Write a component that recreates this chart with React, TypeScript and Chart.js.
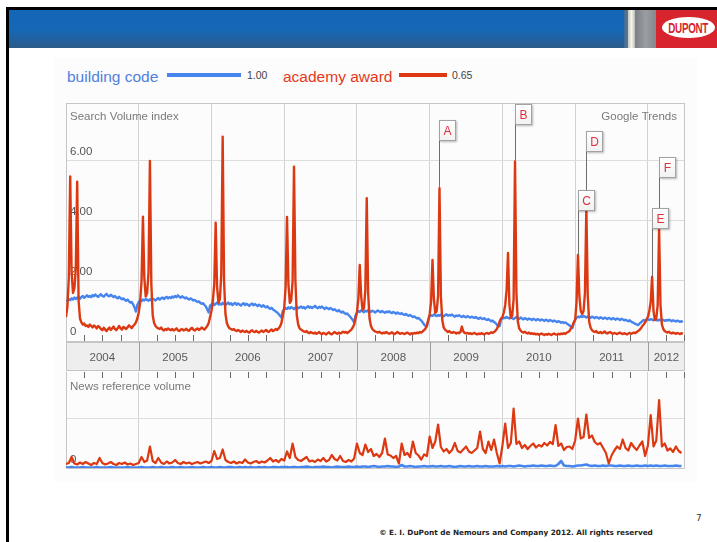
import React, { useEffect, useRef } from "react";
import { Chart, registerables } from "chart.js";

Chart.register(...registerables);

// ---- series metadata ----
const seriesNames = ["building code", "academy award"];
const seriesAverages = ["1.00", "0.65"];
const seriesColors = ["#4684ee", "#dc3912"];
const legendTextColors = ["#4f80dc", "#e4381a"];

// ---- time axis ----
const firstYear = 2004;
const axisEnd = 2012.51;
const weeksPerYear = 52;
const yearLabels = ["2004", "2005", "2006", "2007", "2008", "2009", "2010", "2011", "2012"];

// ---- value axes ----
const searchTicks = [0, 2, 4, 6];
const searchMax = 7.93;
const newsTicks = [0, 1];
const newsMax = 1.92;

// ---- news event markers (week index into the weekly search series) ----
const annotationLetters = ["A", "B", "C", "D", "E", "F"];
const annotationWeeks = [267, 321, 366, 372, 419, 424];

// ---- weekly search volume index ----
const buildingCode = [
  // 2004
  1.37, 1.33, 1.4, 1.36, 1.42, 1.38, 1.45, 1.4, 1.44, 1.47, 1.41, 1.46, 1.5,
  1.44, 1.48, 1.52, 1.47, 1.5, 1.46, 1.53, 1.49, 1.55, 1.5, 1.47, 1.52, 1.56,
  1.5, 1.48, 1.53, 1.57, 1.51, 1.49, 1.54, 1.5, 1.46, 1.5, 1.45, 1.42, 1.47,
  1.43, 1.39, 1.42, 1.37, 1.34, 1.38, 1.32, 1.28, 1.3, 1.22, 1.12, 0.98, 1.2,
  // 2005
  1.3, 1.36, 1.33, 1.38, 1.35, 1.4, 1.37, 1.34, 1.39, 1.36, 1.41, 1.38, 1.35,
  1.4, 1.43, 1.38, 1.42, 1.45, 1.4, 1.44, 1.47, 1.42, 1.46, 1.43, 1.48, 1.45,
  1.5, 1.46, 1.52, 1.48, 1.44, 1.49, 1.46, 1.42, 1.45, 1.41, 1.38, 1.42, 1.39,
  1.35, 1.37, 1.33, 1.3, 1.32, 1.27, 1.24, 1.26, 1.2, 1.15, 1.05, 0.95, 1.18,
  // 2006
  1.22, 1.26, 1.2, 1.24, 1.28, 1.22, 1.25, 1.21, 1.27, 1.23, 1.19, 1.24, 1.28,
  1.22, 1.26, 1.2, 1.24, 1.27, 1.21, 1.25, 1.22, 1.18, 1.23, 1.26, 1.2, 1.24,
  1.21, 1.17, 1.22, 1.25, 1.19, 1.23, 1.2, 1.16, 1.21, 1.18, 1.14, 1.19, 1.15,
  1.12, 1.16, 1.1, 1.07, 1.11, 1.05, 1.02, 0.98, 0.95, 0.9, 0.84, 0.78, 1.0,
  // 2007
  1.05, 1.1, 1.07, 1.12, 1.08, 1.13, 1.1, 1.06, 1.11, 1.14, 1.09, 1.12, 1.15,
  1.1, 1.13, 1.08, 1.12, 1.16, 1.11, 1.14, 1.1, 1.13, 1.17, 1.12, 1.09, 1.14,
  1.11, 1.15, 1.1, 1.07, 1.12, 1.09, 1.06, 1.1, 1.07, 1.03, 1.06, 1.02, 0.99,
  1.03, 0.98, 0.95, 0.98, 0.93, 0.9, 0.92, 0.86, 0.82, 0.76, 0.7, 0.62, 0.85,
  // 2008
  0.95, 1.0, 0.97, 1.02, 0.99, 0.96, 1.01, 0.98, 1.03, 1.0, 0.97, 1.01, 0.98,
  0.95, 0.99, 1.02, 0.98, 0.96, 1.0, 0.97, 0.94, 0.98, 0.96, 0.99, 0.95, 0.93,
  0.97, 0.94, 0.91, 0.95, 0.92, 0.9, 0.93, 0.89, 0.87, 0.9, 0.86, 0.84, 0.87,
  0.83, 0.8, 0.82, 0.78, 0.75, 0.77, 0.72, 0.68, 0.62, 0.55, 0.5, 0.48, 0.7,
  // 2009
  0.82, 0.86, 0.84, 0.88, 0.85, 0.83, 0.87, 0.84, 0.88, 0.85, 0.82, 0.86, 0.89,
  0.84, 0.87, 0.85, 0.88, 0.84, 0.81, 0.85, 0.83, 0.86, 0.82, 0.8, 0.84, 0.81,
  0.79, 0.83, 0.8, 0.78, 0.81, 0.79, 0.77, 0.8, 0.76, 0.74, 0.78, 0.75, 0.73,
  0.76, 0.72, 0.7, 0.73, 0.69, 0.66, 0.68, 0.63, 0.6, 0.55, 0.48, 0.5, 0.72,
  // 2010
  0.74, 0.78, 0.76, 0.8, 0.77, 0.75, 0.79, 0.76, 0.73, 0.77, 0.8, 0.76, 0.74,
  0.78, 0.75, 0.72, 0.76, 0.74, 0.71, 0.75, 0.73, 0.7, 0.74, 0.72, 0.69, 0.73,
  0.71, 0.68, 0.72, 0.7, 0.67, 0.71, 0.69, 0.66, 0.7, 0.68, 0.65, 0.68, 0.66,
  0.63, 0.66, 0.64, 0.61, 0.63, 0.6, 0.62, 0.58, 0.55, 0.52, 0.47, 0.43, 0.6,
  // 2011
  0.72, 0.78, 0.81, 0.79, 0.83, 0.8, 0.84, 0.81, 0.78, 0.82, 0.8, 0.77, 0.81,
  0.79, 0.76, 0.8, 0.78, 0.75, 0.79, 0.77, 0.74, 0.78, 0.76, 0.73, 0.77, 0.75,
  0.72, 0.76, 0.74, 0.71, 0.75, 0.73, 0.7, 0.74, 0.72, 0.69, 0.71, 0.68, 0.66,
  0.69, 0.65, 0.62, 0.6, 0.57, 0.55, 0.53, 0.58, 0.62, 0.66, 0.7, 0.68, 0.7,
  // 2012
  0.72, 0.7, 0.73, 0.71, 0.69, 0.72, 0.7, 0.68, 0.71, 0.69, 0.72, 0.7, 0.67,
  0.7, 0.68, 0.71, 0.69, 0.66, 0.69, 0.67, 0.65, 0.68, 0.66, 0.64, 0.66, 0.63,
];

const academyAward = [
  // 2004
  0.8, 1.15, 2.1, 5.48, 2.3, 1.6, 1.75, 2.4, 5.31, 1.35, 0.75, 0.62, 0.55,
  0.58, 0.5, 0.52, 0.47, 0.55, 0.5, 0.45, 0.52, 0.48, 0.42, 0.5, 0.46, 0.4,
  0.36, 0.44, 0.38, 0.33, 0.4, 0.45, 0.37, 0.42, 0.48, 0.4, 0.36, 0.43, 0.5,
  0.42, 0.38, 0.47, 0.44, 0.4, 0.46, 0.52, 0.48, 0.43, 0.5, 0.55, 0.62, 0.75,
  // 2005
  0.95, 1.3, 2.0, 4.14, 2.1, 1.48, 1.6, 2.3, 6.0, 1.9, 0.85, 0.6, 0.5,
  0.45, 0.42, 0.4, 0.45, 0.38, 0.35, 0.4, 0.37, 0.42, 0.38, 0.36, 0.4, 0.35,
  0.38, 0.42, 0.36, 0.33, 0.38, 0.4, 0.35, 0.37, 0.41, 0.36, 0.34, 0.4, 0.44,
  0.38, 0.35, 0.39, 0.42, 0.37, 0.4, 0.45, 0.41, 0.38, 0.44, 0.5, 0.6, 0.8,
  // 2006
  1.0, 1.35, 1.9, 3.94, 1.8, 1.27, 1.4, 2.2, 6.81, 2.0, 0.9, 0.6, 0.48,
  0.42, 0.4, 0.37, 0.4, 0.35, 0.33, 0.37, 0.34, 0.3, 0.35, 0.32, 0.3, 0.34,
  0.3, 0.28, 0.33, 0.36, 0.31, 0.3, 0.34, 0.3, 0.28, 0.32, 0.35, 0.3, 0.33,
  0.37, 0.32, 0.3, 0.35, 0.38, 0.33, 0.36, 0.4, 0.37, 0.42, 0.48, 0.6, 0.85,
  // 2007
  1.1, 1.8, 4.13, 1.9, 1.27, 1.35, 2.0, 5.81, 2.0, 0.85, 0.55, 0.42, 0.38,
  0.35, 0.32, 0.3, 0.33, 0.28, 0.26, 0.3, 0.27, 0.25, 0.28, 0.24, 0.27, 0.3,
  0.25, 0.23, 0.27, 0.25, 0.22, 0.26, 0.29, 0.24, 0.22, 0.26, 0.3, 0.27, 0.24,
  0.28, 0.25, 0.27, 0.31, 0.28, 0.3, 0.26, 0.3, 0.34, 0.38, 0.45, 0.55, 0.75,
  // 2008
  0.95, 1.4, 2.53, 1.5, 1.03, 1.1, 1.7, 4.76, 1.6, 0.75, 0.5, 0.4, 0.35,
  0.32, 0.3, 0.28, 0.31, 0.27, 0.25, 0.28, 0.26, 0.3, 0.27, 0.24, 0.26, 0.29,
  0.25, 0.23, 0.27, 0.3, 0.26, 0.24, 0.27, 0.25, 0.23, 0.26, 0.28, 0.25, 0.22,
  0.26, 0.24, 0.27, 0.25, 0.28, 0.26, 0.3, 0.28, 0.32, 0.36, 0.42, 0.52, 0.7,
  // 2009
  0.9, 1.3, 2.7, 1.4, 0.93, 1.0, 1.5, 5.09, 1.5, 0.7, 0.45, 0.38, 0.34,
  0.3, 0.33, 0.29, 0.27, 0.3, 0.28, 0.25, 0.28, 0.26, 0.3, 0.48, 0.32, 0.27,
  0.25, 0.27, 0.24, 0.26, 0.23, 0.25, 0.27, 0.24, 0.22, 0.25, 0.23, 0.26, 0.24,
  0.22, 0.25, 0.27, 0.24, 0.26, 0.29, 0.27, 0.3, 0.34, 0.4, 0.5, 0.65, 0.75,
  // 2010
  0.8, 0.95, 1.2, 1.7, 2.93, 1.2, 0.77, 0.85, 1.4, 5.98, 1.6, 0.65, 0.42,
  0.35, 0.3, 0.28, 0.31, 0.27, 0.25, 0.28, 0.24, 0.26, 0.23, 0.25, 0.22, 0.24,
  0.21, 0.23, 0.25, 0.22, 0.2, 0.23, 0.21, 0.24, 0.22, 0.2, 0.23, 0.25, 0.22,
  0.21, 0.24, 0.22, 0.25, 0.23, 0.26, 0.24, 0.28, 0.3, 0.34, 0.42, 0.5, 0.62,
  // 2011
  0.7, 1.3, 2.87, 1.5, 1.0, 0.9, 1.0, 1.6, 4.43, 1.5, 0.65, 0.45, 0.36,
  0.32, 0.3, 0.33, 0.28, 0.27, 0.3, 0.26, 0.28, 0.32, 0.27, 0.25, 0.28, 0.3,
  0.26, 0.24, 0.27, 0.25, 0.23, 0.26, 0.28, 0.25, 0.23, 0.26, 0.24, 0.22, 0.25,
  0.27, 0.24, 0.26, 0.28, 0.26, 0.3, 0.33, 0.37, 0.42, 0.5, 0.55, 0.62, 0.72,
  // 2012
  0.8, 1.0, 1.3, 2.14, 1.0, 0.7, 0.75, 1.2, 3.73, 1.2, 0.55, 0.4, 0.33,
  0.3, 0.28, 0.31, 0.27, 0.25, 0.28, 0.26, 0.24, 0.27, 0.25, 0.23, 0.26, 0.24,
];

// ---- fortnightly news reference volume ----
const newsBuildingCode = [
  // 2004
  0.01, 0.01, 0.02, 0.01, 0.01, 0.01, 0.02, 0.01, 0.01, 0.01, 0.01, 0.02, 0.01,
  0.01, 0.01, 0.01, 0.02, 0.01, 0.01, 0.01, 0.01, 0.01, 0.02, 0.01, 0.01, 0.01,
  // 2005
  0.01, 0.02, 0.01, 0.01, 0.01, 0.02, 0.01, 0.01, 0.02, 0.01, 0.01, 0.01, 0.02,
  0.01, 0.01, 0.02, 0.01, 0.01, 0.01, 0.02, 0.01, 0.01, 0.01, 0.02, 0.01, 0.01,
  // 2006
  0.02, 0.01, 0.01, 0.02, 0.01, 0.01, 0.02, 0.02, 0.01, 0.01, 0.02, 0.01, 0.02,
  0.01, 0.02, 0.01, 0.01, 0.02, 0.01, 0.02, 0.01, 0.01, 0.02, 0.02, 0.01, 0.02,
  // 2007
  0.02, 0.02, 0.01, 0.02, 0.02, 0.01, 0.02, 0.02, 0.03, 0.02, 0.01, 0.02, 0.02,
  0.02, 0.03, 0.02, 0.02, 0.01, 0.02, 0.03, 0.02, 0.02, 0.02, 0.03, 0.02, 0.02,
  // 2008
  0.03, 0.02, 0.03, 0.03, 0.02, 0.03, 0.04, 0.03, 0.02, 0.03, 0.03, 0.04, 0.03,
  0.03, 0.02, 0.03, 0.06, 0.03, 0.03, 0.04, 0.03, 0.02, 0.03, 0.03, 0.04, 0.03,
  // 2009
  0.03, 0.04, 0.03, 0.03, 0.04, 0.03, 0.03, 0.04, 0.03, 0.02, 0.03, 0.04, 0.03,
  0.03, 0.04, 0.03, 0.03, 0.04, 0.03, 0.03, 0.04, 0.03, 0.03, 0.03, 0.04, 0.03,
  // 2010
  0.04, 0.03, 0.04, 0.04, 0.03, 0.04, 0.05, 0.04, 0.03, 0.04, 0.04, 0.05, 0.04,
  0.04, 0.05, 0.04, 0.04, 0.05, 0.04, 0.04, 0.08, 0.14, 0.05, 0.04, 0.04, 0.03,
  // 2011
  0.04, 0.05, 0.05, 0.06, 0.07, 0.05, 0.04, 0.05, 0.04, 0.04, 0.05, 0.04, 0.05,
  0.05, 0.04, 0.04, 0.05, 0.04, 0.04, 0.05, 0.04, 0.04, 0.05, 0.04, 0.04, 0.05,
  // 2012
  0.04, 0.05, 0.04, 0.05, 0.04, 0.04, 0.05, 0.04, 0.04, 0.04, 0.05, 0.04, 0.04,
];

const newsAcademyAward = [
  // 2004
  0.08, 0.1, 0.22, 0.09, 0.07, 0.11, 0.08, 0.12, 0.09, 0.06, 0.1, 0.08, 0.2,
  0.1, 0.07, 0.09, 0.12, 0.08, 0.06, 0.1, 0.08, 0.11, 0.07, 0.09, 0.06, 0.08,
  // 2005
  0.1, 0.22, 0.12, 0.15, 0.43, 0.14, 0.1, 0.2, 0.11, 0.08, 0.13, 0.09, 0.11,
  0.16, 0.1, 0.08, 0.12, 0.09, 0.11, 0.08, 0.1, 0.12, 0.09, 0.11, 0.13, 0.1,
  // 2006
  0.14, 0.34, 0.18, 0.2, 0.37, 0.16, 0.12, 0.1, 0.13, 0.09, 0.12, 0.1, 0.17,
  0.11, 0.09, 0.12, 0.14, 0.1, 0.13, 0.11, 0.15, 0.2, 0.13, 0.16, 0.12, 0.18,
  // 2007
  0.15, 0.33, 0.2, 0.49, 0.22, 0.16, 0.14, 0.18, 0.22, 0.13, 0.15, 0.12, 0.17,
  0.14, 0.2, 0.13, 0.16, 0.26, 0.18, 0.15, 0.24, 0.14, 0.12, 0.16, 0.13, 0.19,
  // 2008
  0.49, 0.3, 0.26, 0.47, 0.32, 0.38, 0.24, 0.28, 0.22, 0.3, 0.59, 0.27, 0.25,
  0.2, 0.24, 0.09, 0.49, 0.26, 0.3, 0.22, 0.53, 0.3, 0.25, 0.17, 0.27, 0.24,
  // 2009
  0.63, 0.4, 0.53, 0.87, 0.42, 0.33, 0.38, 0.3, 0.36, 0.5, 0.34, 0.31, 0.37,
  0.43, 0.33, 0.3, 0.35, 0.4, 0.73, 0.38, 0.3, 0.53, 0.36, 0.57, 0.3, 0.09,
  // 2010
  0.45, 0.89, 0.4, 0.5, 1.19, 0.48, 0.53, 0.4, 0.46, 0.38, 0.44, 0.49, 0.41,
  0.46, 0.43, 0.5, 0.45, 0.52, 0.48, 0.86, 0.44, 0.49, 0.36, 0.42, 0.43, 0.38,
  // 2011
  0.55, 0.99, 0.59, 0.62, 1.07, 0.6, 0.65, 0.52, 0.47, 0.5, 0.4, 0.3, 0.09,
  0.25, 0.35, 0.43, 0.38, 0.57, 0.4, 0.35, 0.5, 0.42, 0.36, 0.45, 0.53, 0.24,
  // 2012
  0.45, 1.06, 0.43, 0.55, 1.36, 0.43, 0.49, 0.35, 0.39, 0.32, 0.43, 0.34, 0.3,
];

const FONT = 'Arial, "Liberation Sans", Helvetica, sans-serif';
const GRID_V = "#d2d2d2";
const GRID_H = "#dddddd";
const FRAME = "#c6c6c6";

// pixel length of each marker's stem above its peak
const annotationStems = [47, 37, 44, 56, 48, 51];

const weekly = (values: number[], step: number) =>
  values.map((v, i) => ({ x: firstYear + (i * step) / weeksPerYear, y: v }));

const yearStarts = yearLabels.map((_, i) => firstYear + i);

function crisp(v: number) {
  return Math.round(v) + 0.5;
}

// frame, corner captions, year band and quarter ticks of the search chart
const searchDecor = {
  id: "searchDecor",
  beforeDatasetsDraw(chart: any) {
    const { ctx, chartArea: a } = chart;
    ctx.save();
    ctx.strokeStyle = FRAME;
    ctx.lineWidth = 1;
    ctx.strokeRect(a.left + 0.5, a.top + 0.5, a.right - a.left - 1, a.bottom - a.top);
    ctx.fillStyle = "#7a7a7a";
    ctx.font = `11.5px ${FONT}`;
    ctx.textBaseline = "middle";
    ctx.textAlign = "left";
    ctx.fillText("Search Volume index", a.left + 4, a.top + 14);
    ctx.textAlign = "right";
    ctx.fillText("Google Trends", a.right - 8, a.top + 14);
    ctx.restore();
  },
  afterDraw(chart: any) {
    const { ctx, chartArea: a } = chart;
    const xs = chart.scales.x;
    const top = a.bottom + 1;
    const h = 29;
    ctx.save();
    ctx.fillStyle = "#eeeeee";
    ctx.fillRect(a.left, top, a.right - a.left, h);
    ctx.strokeStyle = "#c4c4c4";
    ctx.lineWidth = 1;
    ctx.strokeRect(a.left + 0.5, top + 0.5, a.right - a.left - 1, h - 1);
    ctx.font = `11.5px ${FONT}`;
    ctx.textAlign = "center";
    ctx.textBaseline = "middle";
    yearLabels.forEach((label, i) => {
      const start = yearStarts[i];
      const p0 = xs.getPixelForValue(start);
      const p1 = Math.min(xs.getPixelForValue(start + 1), a.right);
      if (i > 0) {
        ctx.strokeStyle = "#9c9c9c";
        ctx.beginPath();
        ctx.moveTo(crisp(p0), top);
        ctx.lineTo(crisp(p0), top + h);
        ctx.stroke();
      }
      ctx.fillStyle = "#5a5a5a";
      ctx.fillText(label, (p0 + p1) / 2, top + h / 2 + 1);
      ctx.strokeStyle = "#6a6a6a";
      for (let q = 1; q < 4; q++) {
        const v = start + q / 4;
        if (v >= axisEnd) break;
        const px = crisp(xs.getPixelForValue(v));
        ctx.beginPath();
        ctx.moveTo(px, a.bottom - 6);
        ctx.lineTo(px, a.bottom);
        ctx.stroke();
      }
    });
    ctx.restore();
  },
};

// lettered news markers pinned to the academy award peaks
const eventMarkers = {
  id: "eventMarkers",
  afterDatasetsDraw(chart: any) {
    const { ctx } = chart;
    const meta = chart.getDatasetMeta(0);
    const boxW = 17;
    const boxH = 21;
    ctx.save();
    ctx.strokeStyle = "#6e6e6e";
    ctx.lineWidth = 1;
    const anchors = annotationWeeks.map((w, i) => {
      const p = meta.data[w];
      const sx = crisp(p.x);
      const bottom = Math.round(p.y - annotationStems[i]);
      ctx.beginPath();
      ctx.moveTo(sx, p.y);
      ctx.lineTo(sx, bottom);
      ctx.stroke();
      return { sx, bottom };
    });
    anchors.forEach(({ sx, bottom }, i) => {
      const left = sx - 0.5;
      const top = bottom - boxH;
      ctx.save();
      ctx.shadowColor = "rgba(0,0,0,0.28)";
      ctx.shadowBlur = 2;
      ctx.shadowOffsetX = 1;
      ctx.shadowOffsetY = 1;
      const g = ctx.createLinearGradient(0, top, 0, bottom);
      g.addColorStop(0, "#ffffff");
      g.addColorStop(1, "#f1f1f1");
      ctx.fillStyle = g;
      ctx.fillRect(left, top, boxW, boxH);
      ctx.restore();
      ctx.strokeStyle = "#a2a2a2";
      ctx.strokeRect(left + 0.5, top + 0.5, boxW - 1, boxH - 1);
      ctx.fillStyle = "#e0303c";
      ctx.font = `12px ${FONT}`;
      ctx.textAlign = "center";
      ctx.textBaseline = "middle";
      ctx.fillText(annotationLetters[i], left + boxW / 2, top + boxH / 2 + 1);
    });
    ctx.restore();
  },
};

// frame, caption and quarter ticks of the news chart
const newsDecor = {
  id: "newsDecor",
  beforeDatasetsDraw(chart: any) {
    const { ctx, chartArea: a } = chart;
    ctx.save();
    ctx.strokeStyle = FRAME;
    ctx.lineWidth = 1;
    ctx.beginPath();
    ctx.moveTo(a.left + 0.5, a.top);
    ctx.lineTo(a.left + 0.5, a.bottom + 0.5);
    ctx.lineTo(a.right - 0.5, a.bottom + 0.5);
    ctx.lineTo(a.right - 0.5, a.top);
    ctx.stroke();
    ctx.fillStyle = "#7a7a7a";
    ctx.font = `11.5px ${FONT}`;
    ctx.textBaseline = "middle";
    ctx.textAlign = "left";
    ctx.fillText("News reference volume", a.left + 4, a.top + 15);
    ctx.restore();
  },
  afterDraw(chart: any) {
    const { ctx, chartArea: a } = chart;
    const xs = chart.scales.x;
    ctx.save();
    ctx.strokeStyle = "#6a6a6a";
    ctx.lineWidth = 1;
    yearStarts.forEach((start) => {
      for (let q = 1; q < 4; q++) {
        const v = start + q / 4;
        if (v >= axisEnd) break;
        const px = crisp(xs.getPixelForValue(v));
        ctx.beginPath();
        ctx.moveTo(px, a.top);
        ctx.lineTo(px, a.top + 6);
        ctx.stroke();
      }
    });
    ctx.restore();
  },
};

function timeAxis() {
  return {
    type: "linear" as const,
    min: firstYear,
    max: axisEnd,
    afterBuildTicks: (s: any) => {
      s.ticks = yearStarts.map((v) => ({ value: v }));
    },
    ticks: { display: false },
    grid: { color: GRID_V, drawTicks: false },
    border: { display: false },
  };
}

// the mirrored value axis keeps 2 x its tick padding as width, so the
// left layout padding is reduced by that amount to put the plot at x = 66
const AXIS_PAD = 4;
const PLOT_LEFT = 66 - 2 * AXIS_PAD;

export default function App() {
  const searchRef = useRef<HTMLCanvasElement>(null);
  const newsRef = useRef<HTMLCanvasElement>(null);

  useEffect(() => {
    const search = new Chart(searchRef.current!, {
      type: "line",
      data: {
        datasets: [
          {
            label: seriesNames[1],
            data: weekly(academyAward, 1),
            borderColor: seriesColors[1],
            borderWidth: 2.4,
            pointRadius: 0,
            tension: 0,
            borderJoinStyle: "round",
          },
          {
            label: seriesNames[0],
            data: weekly(buildingCode, 1),
            borderColor: seriesColors[0],
            borderWidth: 2.4,
            pointRadius: 0,
            tension: 0,
            borderJoinStyle: "round",
          },
        ],
      },
      options: {
        animation: false,
        responsive: false,
        maintainAspectRatio: false,
        events: [],
        layout: { padding: { left: PLOT_LEFT, right: 32, top: 103, bottom: 31 } },
        plugins: { legend: { display: false }, tooltip: { enabled: false } },
        scales: {
          x: timeAxis(),
          y: {
            min: 0,
            max: searchMax,
            afterBuildTicks: (s: any) => {
              s.ticks = searchTicks.map((v) => ({ value: v }));
            },
            ticks: {
              mirror: true,
              padding: AXIS_PAD,
              labelOffset: -9,
              color: "#555555",
              font: { family: FONT, size: 11.5 },
              callback: (v: any) => (Number(v) === 0 ? "0" : Number(v).toFixed(2)),
            },
            grid: { color: GRID_H, drawTicks: false },
            border: { display: false },
          },
        },
      } as any,
      plugins: [searchDecor, eventMarkers],
    });

    const news = new Chart(newsRef.current!, {
      type: "line",
      data: {
        datasets: [
          {
            label: seriesNames[1],
            data: weekly(newsAcademyAward, 2),
            borderColor: seriesColors[1],
            borderWidth: 2.2,
            pointRadius: 0,
            tension: 0,
            borderJoinStyle: "round",
          },
          {
            label: seriesNames[0],
            data: weekly(newsBuildingCode, 2),
            borderColor: seriesColors[0],
            borderWidth: 2.6,
            pointRadius: 0,
            tension: 0,
            borderJoinStyle: "round",
          },
        ],
      },
      options: {
        animation: false,
        responsive: false,
        maintainAspectRatio: false,
        events: [],
        layout: { padding: { left: PLOT_LEFT, right: 32, top: 17, bottom: 22 } },
        plugins: { legend: { display: false }, tooltip: { enabled: false } },
        scales: {
          x: timeAxis(),
          y: {
            min: 0,
            max: newsMax,
            afterBuildTicks: (s: any) => {
              s.ticks = newsTicks.map((v) => ({ value: v }));
            },
            ticks: {
              mirror: true,
              padding: AXIS_PAD,
              labelOffset: -8,
              color: "#555555",
              font: { family: FONT, size: 11.5 },
              callback: (v: any) => (Number(v) === 0 ? "0" : ""),
            },
            grid: { color: GRID_H, drawTicks: false },
            border: { display: false },
          },
        },
      } as any,
      plugins: [newsDecor],
    });

    return () => {
      search.destroy();
      news.destroy();
    };
  }, []);

  const abs = (s: React.CSSProperties): React.CSSProperties => ({ position: "absolute", ...s });

  return (
    <div style={abs({ left: 0, top: 0, width: 717, height: 542, background: "#ffffff", overflow: "hidden", fontFamily: FONT })}>
      {/* slide border and header */}
      <div style={abs({ left: 6, top: 7, width: 711, height: 3, background: "#000" })} />
      <div style={abs({ left: 6, top: 7, width: 3, height: 535, background: "#000" })} />
      <div style={abs({ left: 9, top: 10, width: 615, height: 38, background: "linear-gradient(#1466b8 0%, #1667b4 55%, #255f98 85%, #2c5c88 100%)" })} />
      <div style={abs({ left: 624, top: 10, width: 4, height: 38, background: "linear-gradient(90deg, #3f6b96, #5d7890)" })} />
      <div style={abs({ left: 628, top: 10, width: 7, height: 38, background: "linear-gradient(90deg, #c4c4bd, #f5f5ef 50%, #bcbcb5)" })} />
      <div style={abs({ left: 635, top: 10, width: 21, height: 38, background: "linear-gradient(90deg, #7b7f85, #9a9da1 50%, #85888d)" })} />
      <div style={abs({ left: 656, top: 10, width: 61, height: 38, background: "#d8252d" })} />
      <div style={abs({ left: 662, top: 17, width: 53, height: 21, borderRadius: "50%", background: "#ffffff", display: "flex", alignItems: "center", justifyContent: "center", overflow: "hidden" })}>
        <span style={{ color: "#d8252d", fontWeight: 900, fontSize: 12, letterSpacing: -0.4, transform: "scaleX(0.82) scaleY(1.2)", display: "inline-block" }}>DUPONT</span>
      </div>

      {/* chart panel */}
      <div style={abs({ left: 54, top: 58, width: 643, height: 424, background: "#fcfcfc" })} />

      {/* legend */}
      <div style={abs({ left: 67, top: 69, fontSize: 15.5, lineHeight: "15.5px", color: legendTextColors[0], whiteSpace: "nowrap" })}>{seriesNames[0]}</div>
      <div style={abs({ left: 167, top: 73, width: 74, height: 4, background: seriesColors[0] })} />
      <div style={abs({ left: 247, top: 70, fontSize: 10.5, lineHeight: "10.5px", color: "#444", whiteSpace: "nowrap" })}>{seriesAverages[0]}</div>
      <div style={abs({ left: 283, top: 69, fontSize: 15.5, lineHeight: "15.5px", color: legendTextColors[1], whiteSpace: "nowrap" })}>{seriesNames[1]}</div>
      <div style={abs({ left: 399, top: 73, width: 48, height: 4, background: seriesColors[1] })} />
      <div style={abs({ left: 452, top: 70, fontSize: 10.5, lineHeight: "10.5px", color: "#444", whiteSpace: "nowrap" })}>{seriesAverages[1]}</div>

      <canvas ref={searchRef} width={717} height={372} style={abs({ left: 0, top: 0, width: 717, height: 372 })} />
      <canvas ref={newsRef} width={717} height={135} style={abs({ left: 0, top: 355, width: 717, height: 135 })} />

      {/* footer */}
      <div style={abs({ left: 696, top: 513, width: 16, fontSize: 9, lineHeight: "10px", color: "#333", fontFamily: '"DejaVu Sans", Verdana, sans-serif' })}>7</div>
      <div style={abs({ left: 316, top: 528, width: 400, textAlign: "center", fontSize: 7.3, lineHeight: "10px", fontWeight: "bold", color: "#222", fontFamily: '"DejaVu Sans", Verdana, sans-serif', whiteSpace: "nowrap" })}>
        © E. I. DuPont de Nemours and Company 2012.  All rights reserved
      </div>
    </div>
  );
}
